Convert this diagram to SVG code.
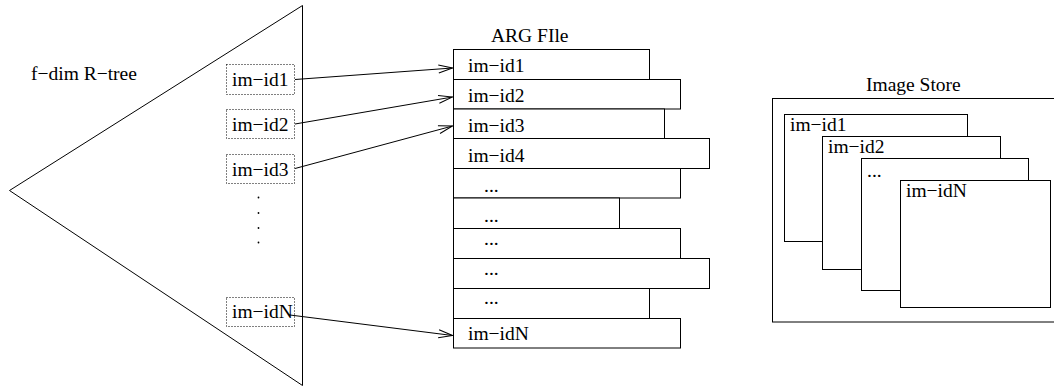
<svg xmlns="http://www.w3.org/2000/svg" width="1054" height="387" viewBox="0 0 1054 387">
<style>
text{font-family:"Liberation Serif","Times New Roman",serif;font-size:19.5px;fill:#000}
.ln{fill:none;stroke:#000;stroke-width:1}
.box{fill:#fff;stroke:#000;stroke-width:1}
.dot{fill:none;stroke:#000;stroke-width:1;stroke-dasharray:1 2}
.pt{fill:#000}
</style>
<defs>
<marker id="arr" markerUnits="userSpaceOnUse" markerWidth="16" markerHeight="10" viewBox="-1 -1 16 10" refX="14" refY="4" orient="auto">
<path d="M0,0 L14,4 L0,8" fill="none" stroke="#000" stroke-width="1"/>
</marker>
</defs>
<rect width="1054" height="387" fill="#fff"/>
<g id="rtree">
<polygon class="ln" points="9.5,190.5 302.5,5.5 302.5,385.5"/>
<text x="31" y="80">f−dim R−tree</text>
<rect class="dot" x="226.5" y="64.5" width="68" height="30"/>
<text x="232" y="86">im−id1</text>
<rect class="dot" x="226.5" y="109.5" width="68" height="29"/>
<text x="232" y="131">im−id2</text>
<rect class="dot" x="226.5" y="154.5" width="68" height="29"/>
<text x="232" y="176">im−id3</text>
<circle class="pt" cx="258.5" cy="197.5" r="0.9"/>
<circle class="pt" cx="258.5" cy="213" r="0.9"/>
<circle class="pt" cx="258.5" cy="228" r="0.9"/>
<circle class="pt" cx="258.5" cy="242.5" r="0.9"/>
<rect class="dot" x="226.5" y="297.5" width="68" height="29"/>
<text x="232" y="318">im−idN</text>
</g>
<g id="argfile">
<text x="491" y="42">ARG FIle</text>
<rect class="box" x="453.5" y="49.5" width="196" height="30"/>
<rect class="box" x="453.5" y="79.5" width="227" height="29.5"/>
<rect class="box" x="453.5" y="109" width="211" height="29.5"/>
<rect class="box" x="453.5" y="138.5" width="256" height="30"/>
<rect class="box" x="453.5" y="168.5" width="227" height="29.5"/>
<rect class="box" x="453.5" y="198" width="166" height="30.5"/>
<rect class="box" x="453.5" y="228.5" width="227" height="30"/>
<rect class="box" x="453.5" y="258.5" width="256" height="30"/>
<rect class="box" x="453.5" y="288.5" width="196" height="30"/>
<rect class="box" x="453.5" y="318.5" width="227" height="29.5"/>
<text x="468" y="72">im−id1</text>
<text x="468" y="102">im−id2</text>
<text x="468" y="132">im−id3</text>
<text x="468" y="162">im−id4</text>
<text x="484" y="192">...</text>
<text x="484" y="222">...</text>
<text x="484" y="245">...</text>
<text x="484" y="275">...</text>
<text x="484" y="304">...</text>
<text x="468" y="340">im−idN</text>
</g>
<g id="imagestore">
<text x="866" y="91">Image Store</text>
<rect class="box" x="772.5" y="98.5" width="290" height="223.5"/>
<rect class="box" x="784.5" y="114.5" width="183" height="127"/>
<rect class="box" x="822.5" y="136.5" width="178" height="133"/>
<rect class="box" x="861.5" y="158.5" width="167" height="132"/>
<rect class="box" x="900.5" y="180.5" width="150" height="127"/>
<text x="790" y="131">im−id1</text>
<text x="828" y="153">im−id2</text>
<text x="867" y="177">...</text>
<text x="906" y="197">im−idN</text>
</g>
<g id="connectors">
<line class="ln" x1="295" y1="79.5" x2="452.5" y2="68" marker-end="url(#arr)"/>
<line class="ln" x1="295" y1="124" x2="452.5" y2="97" marker-end="url(#arr)"/>
<line class="ln" x1="295" y1="168.5" x2="452.5" y2="126" marker-end="url(#arr)"/>
<line class="ln" x1="290" y1="315" x2="452.5" y2="335.5" marker-end="url(#arr)"/>
</g>
</svg>
